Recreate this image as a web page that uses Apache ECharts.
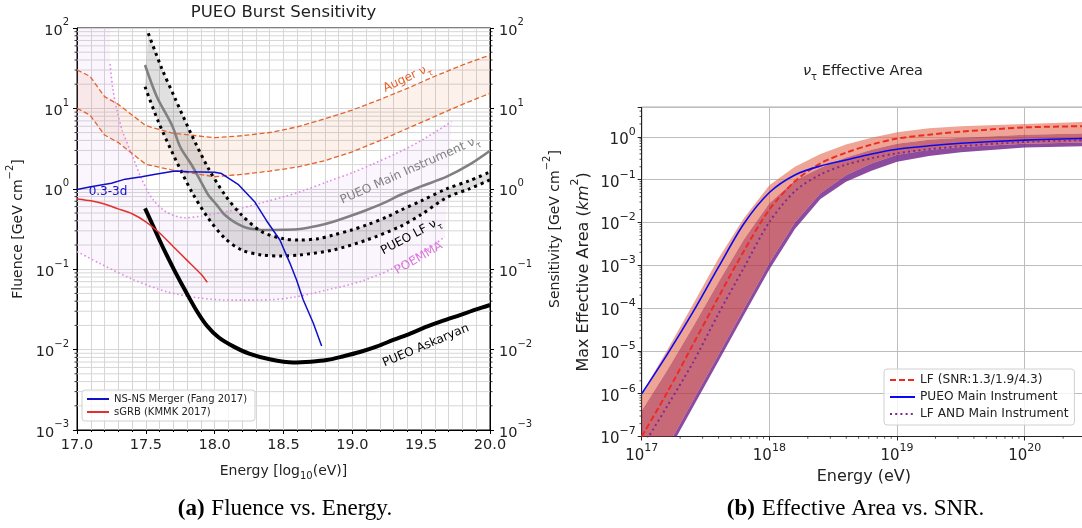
<!DOCTYPE html>
<html><head><meta charset="utf-8">
<script src="https://cdn.jsdelivr.net/npm/echarts@6/dist/echarts.min.js"></script>
<style>html,body{margin:0;padding:0;background:#fff}#c{width:1082px;height:528px}</style>
</head><body><div id="c"></div>
<script>
// ---------- Panel (a): Fluence vs Energy, [E (log10 eV), log10 fluence] ----------
const augerUpper = [[17.0,1.478],[17.094,1.40],[17.2,1.146],[17.3,1.05],[17.5,0.785],[17.7,0.69],[18.0,0.636],[18.2,0.66],[18.4,0.70],[18.6,0.77],[18.8,0.87],[19.0,0.98],[19.2,1.11],[19.4,1.25],[19.6,1.40],[19.8,1.54],[20.0,1.664]];
const augerLower = [[17.0,1.0],[17.094,0.918],[17.2,0.669],[17.3,0.575],[17.5,0.305],[17.7,0.23],[18.0,0.15],[18.2,0.18],[18.4,0.22],[18.6,0.27],[18.8,0.35],[19.0,0.46],[19.2,0.6],[19.4,0.75],[19.6,0.9],[19.8,1.05],[20.0,1.188]];
const poemmaUpper = [[17.24,1.55],[17.26,1.25],[17.29,0.98],[17.33,0.72],[17.40,0.42],[17.47,0.12],[17.55,-0.13],[17.65,-0.29],[17.78,-0.36],[17.9,-0.34],[18.0,-0.31],[18.15,-0.26],[18.35,-0.17],[18.5,-0.10],[18.65,-0.02],[18.83,0.095],[19.0,0.2],[19.15,0.31],[19.32,0.44],[19.5,0.6],[19.72,0.835]];
const poemmaLower = [[17.0,-0.78],[17.167,-0.93],[17.409,-1.13],[17.651,-1.28],[17.893,-1.36],[18.135,-1.385],[18.402,-1.38],[18.571,-1.35],[18.813,-1.26],[19.055,-1.155],[19.297,-0.99],[19.54,-0.76],[19.672,-0.596]];
const poemmaFillCap = [[17.0,2.0],[17.24,2.0]];
const mainInstrument = [[17.494,1.54],[17.58,1.146],[17.69,0.79],[17.75,0.52],[17.833,0.296],[17.9,0.09],[17.954,-0.077],[18.015,-0.2],[18.075,-0.326],[18.15,-0.42],[18.244,-0.49],[18.378,-0.512],[18.5,-0.51],[18.619,-0.5],[18.75,-0.46],[18.861,-0.409],[19.0,-0.33],[19.104,-0.264],[19.25,-0.16],[19.346,-0.077],[19.5,0.03],[19.685,0.151],[19.85,0.3],[20.0,0.474]];
const lfUpper = [[17.518,1.934],[17.615,1.5],[17.712,1.126],[17.833,0.669],[17.954,0.255],[18.075,-0.077],[18.196,-0.326],[18.341,-0.533],[18.498,-0.62],[18.619,-0.637],[18.75,-0.62],[18.861,-0.575],[19.0,-0.51],[19.104,-0.45],[19.25,-0.35],[19.346,-0.27],[19.5,-0.15],[19.685,0.0],[19.85,0.1],[20.0,0.21]];
const lfLower = [[17.494,1.27],[17.591,0.835],[17.712,0.379],[17.833,-0.036],[17.954,-0.367],[18.075,-0.616],[18.196,-0.761],[18.341,-0.823],[18.486,-0.835],[18.619,-0.823],[18.861,-0.761],[19.104,-0.637],[19.346,-0.47],[19.5,-0.32],[19.685,-0.11],[19.85,0.0],[20.0,0.11]];
const askaryan = [[17.494,-0.243],[17.55,-0.45],[17.6,-0.64],[17.65,-0.82],[17.712,-1.03],[17.797,-1.30],[17.87,-1.52],[17.942,-1.70],[18.03,-1.85],[18.135,-1.96],[18.25,-2.05],[18.4,-2.12],[18.571,-2.16],[18.7,-2.15],[18.813,-2.13],[18.93,-2.085],[19.055,-2.03],[19.18,-1.96],[19.297,-1.88],[19.42,-1.80],[19.54,-1.715],[19.66,-1.64],[19.782,-1.57],[19.9,-1.50],[20.0,-1.445]];
const nsMerger = [[17.0,-0.01],[17.1,0.026],[17.25,0.068],[17.35,0.12],[17.47,0.15],[17.57,0.18],[17.712,0.22],[17.81,0.213],[18.0,0.205],[18.05,0.19],[18.17,0.056],[18.29,-0.16],[18.378,-0.4],[18.474,-0.637],[18.547,-0.927],[18.595,-1.134],[18.643,-1.38],[18.716,-1.67],[18.777,-1.955]];
const sgrb = [[17.0,-0.127],[17.1,-0.15],[17.2,-0.19],[17.3,-0.25],[17.4,-0.31],[17.5,-0.41],[17.6,-0.55],[17.7,-0.72],[17.8,-0.89],[17.9,-1.06],[17.946,-1.163]];

// ---------- Panel (b): Effective area, [log10 E(eV), log10 A(km^2)] ----------
const logE = [17.0,17.2,17.4,17.6,17.8,18.0,18.2,18.4,18.6,18.8,19.0,19.25,19.5,20.0,20.48];
const mainArea   = [-6.0,-5.08,-4.1,-3.05,-2.03,-1.30,-0.89,-0.68,-0.54,-0.40,-0.29,-0.21,-0.15,-0.077,-0.035];
const lfArea     = [-7.0,-5.97,-4.86,-3.75,-2.67,-1.70,-1.04,-0.62,-0.37,-0.18,-0.04,0.05,0.12,0.22,0.25];
const andArea    = [-7.27,-6.29,-5.28,-4.14,-3.06,-1.99,-1.27,-0.88,-0.65,-0.50,-0.385,-0.29,-0.22,-0.117,-0.075];
const lfBandHigh = [-6.0,-4.98,-3.92,-2.85,-1.90,-1.13,-0.70,-0.40,-0.18,-0.02,0.11,0.20,0.25,0.30,0.35];
const andBandHigh= [-6.4,-5.45,-4.45,-3.4,-2.4,-1.55,-1.02,-0.72,-0.48,-0.30,-0.16,-0.07,-0.02,0.05,0.08];
const lfBandLow  = [-8.3,-7.25,-6.17,-5.1,-4.02,-2.95,-2.0,-1.32,-0.90,-0.62,-0.42,-0.31,-0.24,-0.16,-0.13];
const andBandLow = [-8.45,-7.4,-6.32,-5.25,-4.17,-3.1,-2.15,-1.45,-1.05,-0.79,-0.58,-0.45,-0.36,-0.25,-0.22];

const FONT = 'DejaVu Sans';
const pair = arr => logE.map((x,i)=>[x, arr[i]]);

function supTxt(n){ return n < 0 ? '\u2212' + (-n) : '' + n; }
function powLabel(v){ const n = Math.round(v); if (Math.abs(v-n) > 1e-6) return ''; return '{b|10}{s|' + supTxt(n) + '}'; }
function tickRich(fs){ return {
  b:{fontSize:fs, fontFamily:FONT, color:'#222', lineHeight:fs+6, verticalAlign:'bottom'},
  s:{fontSize:Math.round(fs*0.7), fontFamily:FONT, color:'#222', lineHeight:Math.round(fs*0.7), verticalAlign:'top'}
};}
function nameRich(fs){ return {
  t:{fontSize:fs, fontFamily:FONT, color:'#222', lineHeight:fs+6, verticalAlign:'bottom'},
  i:{fontSize:fs, fontFamily:FONT, fontStyle:'italic', color:'#222', lineHeight:fs+6, verticalAlign:'bottom'},
  s:{fontSize:Math.round(fs*0.7), fontFamily:FONT, color:'#222', lineHeight:Math.round(fs*0.7), verticalAlign:'top'},
  u:{fontSize:Math.round(fs*0.7), fontFamily:FONT, color:'#222', lineHeight:Math.round(fs*0.7), verticalAlign:'bottom', padding:[0,0,-3,0]}
};}

const fluenceMinor = [];
for (let n=-3; n<=1; n++) for (let k=2; k<=9; k++) fluenceMinor.push(n + Math.log10(k));
const areaMinorY = [];
for (let n=-7; n<=0; n++) for (let k=2; k<=9; k++) { const v = n + Math.log10(k); if (v < 0.69) areaMinorY.push(v); }
const areaMinorX = [];
for (let n=17; n<=20; n++) for (let k=2; k<=9; k++) { const v = n + Math.log10(k); if (v < 20.48) areaMinorX.push(v); }

const notes = [
 {e:19.404, f:1.353, rot:25, color:'#e4632d', text:'{a|Auger ν}{s|τ}'},
 {e:19.425, f:0.209, rot:24, color:'#808080', text:'{a|PUEO Main Instrument ν}{s|τ}'},
 {e:19.433, f:-0.612, rot:28, color:'#000000', text:'{a|PUEO LF ν}{s|τ}'},
 {e:19.49, f:-0.886, rot:30, color:'#dd77dd', text:'{a|POEMMA}'},
 {e:19.54, f:-1.974, rot:23, color:'#000000', text:'{a|PUEO Askaryan}'},
 {e:17.225, f:-0.065, rot:0, color:'#1010c8', text:'{a|0.3-3d}'}
];

function band(top, bottom, color, xi, yi, z){
  return {type:'custom', xAxisIndex:xi, yAxisIndex:yi, z:z, silent:true, clip:true, data:[top[0]],
    renderItem:(params, api)=>{
      if (params.dataIndex !== 0) return;
      const pts = top.map(p=>api.coord(p)).concat(bottom.slice().reverse().map(p=>api.coord(p)));
      return {type:'polygon', shape:{points:pts}, style:{fill:color}};
    }};
}
function line(name, data, color, width, type, xi, yi, smooth){
  return {type:'line', name:name, xAxisIndex:xi, yAxisIndex:yi, data:data, symbol:'none', showSymbol:false,
    smooth:smooth, silent:true, z:3, itemStyle:{color:color},
    lineStyle:{color:color, width:width, type:type, cap:'butt'}};
}

const chart = echarts.init(document.getElementById('c'));
chart.setOption({
  animation:false,
  backgroundColor:'#fff',
  title:[
    {text:'PUEO Burst Sensitivity', left:283.5, top:4, padding:0, textAlign:'center',
     textStyle:{fontSize:16.5, fontWeight:'normal', fontFamily:FONT, color:'#222'}},
    {text:'{n|ν}{u|τ}{t| Effective Area}', left:863, top:64, padding:0, textAlign:'center',
     textStyle:{fontWeight:'normal', rich:{
       n:{fontSize:14.5, fontFamily:FONT, fontStyle:'italic', fontWeight:'normal', color:'#222', lineHeight:18, verticalAlign:'top'},
       t:{fontSize:14.5, fontFamily:FONT, fontWeight:'normal', color:'#222', lineHeight:18, verticalAlign:'top'},
       u:{fontSize:10, fontFamily:FONT, fontWeight:'normal', color:'#222', lineHeight:10, verticalAlign:'bottom'}}}}
  ],
  legend:[
    {data:['NS-NS Merger (Fang 2017)','sGRB (KMMK 2017)'], left:82, top:390, orient:'vertical',
     itemWidth:22, itemHeight:8, itemGap:3, padding:[4,8,4,4], itemStyle:{opacity:0},
     backgroundColor:'rgba(255,255,255,0.8)', borderColor:'#d0d0d0', borderWidth:1, borderRadius:3,
     textStyle:{fontSize:10, fontFamily:FONT, color:'#222'}},
    {data:['LF (SNR:1.3/1.9/4.3)','PUEO Main Instrument','LF AND Main Instrument'], left:884, top:369, orient:'vertical',
     itemWidth:25, itemHeight:10, itemGap:5, padding:[5,6,5,5], itemStyle:{opacity:0},
     backgroundColor:'rgba(255,255,255,0.8)', borderColor:'#d0d0d0', borderWidth:1, borderRadius:3,
     textStyle:{fontSize:12.2, fontFamily:FONT, color:'#222'}}
  ],
  grid:[
    {left:77, top:28, width:413, height:402, show:true, borderColor:'#000', borderWidth:1, backgroundColor:'transparent', outerBoundsMode:'none', containLabel:false},
    {left:641.7, top:107.3, width:444.3, height:329.2, show:true, borderColor:'#333', borderWidth:1, backgroundColor:'transparent', outerBoundsMode:'none', containLabel:false}
  ],
  xAxis:[
    {gridIndex:0, type:'value', min:17, max:20, interval:0.5,
     axisLine:{show:true, onZero:false, lineStyle:{color:'#000', width:1}},
     axisTick:{show:true, length:4, lineStyle:{color:'#000'}},
     minorTick:{show:true, splitNumber:5, length:2, lineStyle:{color:'#000'}},
     splitLine:{show:true, lineStyle:{color:'#d6d6d6', width:1}},
     minorSplitLine:{show:true, lineStyle:{color:'#d6d6d6', width:1}},
     axisLabel:{formatter:v=>v.toFixed(1), fontSize:14.5, fontFamily:FONT, color:'#222', margin:8},
     name:'{t|Energy [log}{u|10}{t|(eV)]}', nameLocation:'middle', nameGap:28,
     nameTextStyle:{rich:nameRich(14)}},
    {gridIndex:1, type:'value', min:17, max:20.48, interval:1,
     axisLine:{show:true, onZero:false, lineStyle:{color:'#222', width:1}},
     axisTick:{show:true, length:4, lineStyle:{color:'#222'}},
     splitLine:{show:true, lineStyle:{color:'#bdbdbd', width:1}},
     axisLabel:{formatter:powLabel, rich:tickRich(15), margin:6},
     name:'Energy (eV)', nameLocation:'middle', nameGap:30,
     nameTextStyle:{fontSize:16, fontFamily:FONT, color:'#222'}}
  ],
  yAxis:[
    {gridIndex:0, type:'value', min:-3, max:2, interval:1, position:'left',
     axisLine:{show:true, onZero:false, lineStyle:{color:'#000', width:1}},
     axisTick:{show:true, length:4, lineStyle:{color:'#000'}},
     splitLine:{show:true, lineStyle:{color:'#d6d6d6', width:1}},
     axisLabel:{formatter:powLabel, rich:tickRich(14.5), margin:8},
     name:'{t|Fluence [GeV cm}{s|\u22122}{t|]}', nameLocation:'middle', nameGap:52,
     nameTextStyle:{rich:nameRich(14)}},
    {gridIndex:0, type:'value', min:-3, max:2, interval:1, position:'right',
     axisLine:{show:true, onZero:false, lineStyle:{color:'#000', width:1}},
     axisTick:{show:true, length:4, lineStyle:{color:'#000'}},
     splitLine:{show:false},
     axisLabel:{formatter:powLabel, rich:tickRich(14.5), margin:9},
     name:'{t|Sensitivity [GeV cm}{s|\u22122}{t|]}', nameLocation:'middle', nameGap:52,
     nameTextStyle:{rich:nameRich(14)}},
    {gridIndex:1, type:'value', min:-7, max:0.69, interval:1,
     axisLine:{show:true, onZero:false, lineStyle:{color:'#222', width:1}},
     axisTick:{show:true, length:4, lineStyle:{color:'#222'}},
     splitLine:{show:true, lineStyle:{color:'#bdbdbd', width:1}},
     axisLabel:{formatter:powLabel, rich:tickRich(15), margin:6},
     name:'{t|Max Effective Area (}{i|km}{s|2}{t|)}', nameLocation:'middle', nameGap:50,
     nameTextStyle:{rich:nameRich(16)}}
  ],
  series:[
    {type:'custom', xAxisIndex:0, yAxisIndex:0, z:1, silent:true, clip:false, data:[[17,0]],
     renderItem:(params, api)=>{
       const ch = [];
       for (const v of fluenceMinor){
         const a = api.coord([17, v]), b = api.coord([20, v]);
         ch.push({type:'line', shape:{x1:a[0], y1:a[1], x2:b[0], y2:b[1]}, style:{stroke:'#d6d6d6', lineWidth:1}});
         ch.push({type:'line', shape:{x1:a[0]-2.5, y1:a[1], x2:a[0], y2:a[1]}, style:{stroke:'#000', lineWidth:0.8}});
         ch.push({type:'line', shape:{x1:b[0], y1:b[1], x2:b[0]+2.5, y2:b[1]}, style:{stroke:'#000', lineWidth:0.8}});
       }
       return {type:'group', children:ch};
     }},
    band(poemmaFillCap.concat(poemmaUpper), poemmaLower, 'rgba(210,130,225,0.08)', 0, 0, 2),
    band(augerUpper, augerLower, 'rgba(240,130,80,0.11)', 0, 0, 2),
    band(lfUpper, lfLower, 'rgba(100,100,100,0.20)', 0, 0, 2),
    line('Auger upper', augerUpper, '#e4632d', 1.3, [5,2.6], 0, 0, false),
    line('Auger lower', augerLower, '#e4632d', 1.3, [5,2.6], 0, 0, false),
    line('POEMMA upper', poemmaUpper, '#e08ae8', 1.6, [1.6,2.6], 0, 0, 0.3),
    line('POEMMA lower', poemmaLower, '#e08ae8', 1.6, [1.6,2.6], 0, 0, 0.3),
    line('Main Instrument', mainInstrument, '#808080', 2.6, 'solid', 0, 0, 0.3),
    line('LF upper', lfUpper, '#000', 3, [3,4], 0, 0, 0.3),
    line('LF lower', lfLower, '#000', 3, [3,4], 0, 0, 0.3),
    line('Askaryan', askaryan, '#000', 4, 'solid', 0, 0, 0.3),
    line('NS-NS Merger (Fang 2017)', nsMerger, '#1010c8', 1.5, 'solid', 0, 0, false),
    line('sGRB (KMMK 2017)', sgrb, '#e3302a', 1.5, 'solid', 0, 0, 0.2),
    {type:'custom', xAxisIndex:0, yAxisIndex:0, z:4, silent:true, clip:false,
     data:notes.map(n=>[n.e, n.f]),
     renderItem:(params, api)=>{
       const nt = notes[params.dataIndex];
       const p = api.coord([api.value(0), api.value(1)]);
       return {type:'text', x:p[0], y:p[1], rotation:nt.rot*Math.PI/180,
         style:{text:nt.text, align:'center', verticalAlign:'middle', fill:nt.color,
           rich:{a:{fontSize:12, fontFamily:FONT, fill:nt.color, color:nt.color, lineHeight:16, verticalAlign:'top'},
                 s:{fontSize:8.5, fontFamily:FONT, fill:nt.color, color:nt.color, lineHeight:8.5, verticalAlign:'bottom'}}}};
     }},
    {type:'custom', xAxisIndex:1, yAxisIndex:2, z:1, silent:true, clip:false, data:[[17,-7]],
     renderItem:(params, api)=>{
       const ch = [];
       for (const v of areaMinorY){
         const a = api.coord([17, v]);
         ch.push({type:'line', shape:{x1:a[0]-2.2, y1:a[1], x2:a[0], y2:a[1]}, style:{stroke:'#222', lineWidth:0.8}});
       }
       for (const v of areaMinorX){
         const a = api.coord([v, -7]);
         ch.push({type:'line', shape:{x1:a[0], y1:a[1], x2:a[0], y2:a[1]+2.2}, style:{stroke:'#222', lineWidth:0.8}});
       }
       return {type:'group', children:ch};
     }},
    band(pair(lfBandHigh), pair(andBandHigh), 'rgba(226,105,80,0.6)', 1, 2, 2),
    band(pair(andBandHigh), pair(lfBandLow), 'rgba(182,55,75,0.75)', 1, 2, 2),
    band(pair(lfBandLow), pair(andBandLow), 'rgba(111,30,135,0.8)', 1, 2, 2),
    line('LF (SNR:1.3/1.9/4.3)', pair(lfArea), '#ee2a24', 2, [6,3], 1, 2, 0.3),
    line('PUEO Main Instrument', pair(mainArea), '#0a0af0', 1.6, 'solid', 1, 2, 0.3),
    line('LF AND Main Instrument', pair(andArea), '#7d2a92', 2, [2,3.2], 1, 2, 0.3)
  ],
  graphic:[
    {type:'text', x:285, y:509, style:{text:'{b|(a)}  {n|Fluence vs. Energy.}', align:'center', verticalAlign:'middle',
      rich:{b:{fontSize:23, fontFamily:'Liberation Serif', fontWeight:'bold', fill:'#000'}, n:{fontSize:23, fontFamily:'Liberation Serif', fill:'#000'}}}},
    {type:'text', x:855.5, y:509, style:{text:'{b|(b)}  {n|Effective Area vs. SNR.}', align:'center', verticalAlign:'middle',
      rich:{b:{fontSize:23, fontFamily:'Liberation Serif', fontWeight:'bold', fill:'#000'}, n:{fontSize:23, fontFamily:'Liberation Serif', fill:'#000'}}}}
  ]
});
</script></body></html>
